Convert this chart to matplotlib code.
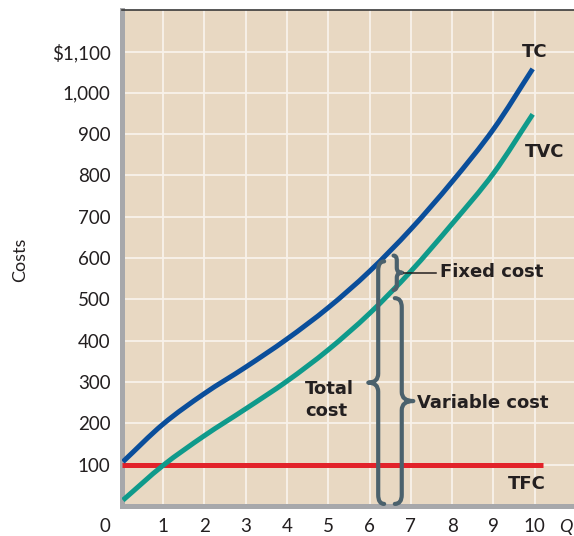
import numpy as np
import matplotlib.pyplot as plt
from matplotlib.path import Path
from matplotlib.patches import PathPatch

plt.rcParams['font.family'] = ['Lato', 'DejaVu Sans']

# values
q = [0.03, 1, 2, 3, 4, 5, 6, 7, 8, 9, 9.95]
tc = [107, 198, 272, 336, 404, 480, 568, 670, 785, 912, 1058]
tvc = [14, 98, 170, 235, 302, 378, 466, 568, 683, 805, 948]
tfc_q = [0, 10.2]
tfc = [100, 100]

x_ticks = list(range(1, 11))
y_ticks = [100, 200, 300, 400, 500, 600, 700, 800, 900, 1000, 1100]
y_labels = ['100', '200', '300', '400', '500', '600', '700', '800', '900', '1,000', '$1,100']

# brace annotations at Q ~ 6.2
total_brace = (6.21, 5, 592)
variable_brace = (6.78, 5, 503)
fixed_brace = (6.66, 523, 606)

bg = '#e8d8c2'
dark = '#231f20'
brace_col = '#4b616c'


def smooth_path(xs, ys):
    # catmull-rom through the points, drawn as bezier segments
    p = np.column_stack([xs, ys]).astype(float)
    ext = np.vstack([2 * p[0] - p[1], p, 2 * p[-1] - p[-2]])
    verts = [p[0]]
    codes = [Path.MOVETO]
    for i in range(1, len(ext) - 2):
        c1 = ext[i] + (ext[i + 1] - ext[i - 1]) / 6
        c2 = ext[i + 1] - (ext[i + 2] - ext[i]) / 6
        verts += [c1, c2, ext[i + 1]]
        codes += [Path.CURVE4] * 3
    return Path(verts, codes)


def brace(ax, x, y0, y1, w, r, side):
    ym = (y0 + y1) / 2
    e = -side * w * 0.6
    verts = [(x + e, y1), (x, y1), (x, y1 - r),
             (x, ym + r), (x, ym), (x + side * w, ym),
             (x, ym), (x, ym - r),
             (x, y0 + r), (x, y0), (x + e, y0)]
    codes = [Path.MOVETO, Path.CURVE3, Path.CURVE3, Path.LINETO,
             Path.CURVE3, Path.CURVE3, Path.CURVE3, Path.CURVE3,
             Path.LINETO, Path.CURVE3, Path.CURVE3]
    ax.add_patch(PathPatch(Path(verts, codes), fill=False, edgecolor=brace_col,
                           lw=3, capstyle='round', joinstyle='round', zorder=4))


fig = plt.figure(figsize=(5.74, 5.36), dpi=100)
ax = fig.add_axes([0.212, 0.056, 0.788, 0.925])
ax.set_facecolor(bg)
ax.set_xlim(0, 10.95)
ax.set_ylim(0, 1200)

ax.set_xticks(x_ticks)
ax.set_xticklabels([str(v) for v in x_ticks])
ax.set_yticks(y_ticks)
ax.set_yticklabels(y_labels)
ax.tick_params(length=0, labelsize=13.5, colors=dark)
ax.tick_params(axis='y', pad=8)
ax.tick_params(axis='x', pad=9)
ax.grid(color='#f8f2ea', lw=1.3)
ax.set_axisbelow(True)

for s in ['left', 'bottom']:
    ax.spines[s].set_color('#a7a8ab')
    ax.spines[s].set_linewidth(3.6)
ax.spines['top'].set_color('#3a3a3a')
ax.spines['top'].set_linewidth(1.2)
ax.spines['right'].set_visible(False)

ax.plot(tfc_q, tfc, color='#e2222a', lw=3.6, solid_capstyle='butt', zorder=3)
ax.add_patch(PathPatch(smooth_path(q, tvc), fill=False, edgecolor='#0f9a8b', lw=3.6, zorder=3))
ax.add_patch(PathPatch(smooth_path(q, tc), fill=False, edgecolor='#0a4e9b', lw=3.6, zorder=3))

brace(ax, *total_brace, w=0.24, r=22, side=-1)
brace(ax, *variable_brace, w=0.28, r=22, side=1)
brace(ax, *fixed_brace, w=0.13, r=12, side=1)
ax.plot([6.84, 7.6], [565, 565], color=dark, lw=1.1, zorder=4)

lab = dict(fontsize=13, fontweight='bold', color=dark, family=['DejaVu Sans'])
ax.text(10.0, 1099, 'TC', ha='center', va='center', **lab)
ax.text(10.25, 857, 'TVC', ha='center', va='center', **lab)
ax.text(9.8, 53, 'TFC', ha='center', va='center', **lab)
ax.text(7.71, 566, 'Fixed cost', ha='left', va='center', **lab)
ax.text(7.14, 249, 'Variable cost', ha='left', va='center', **lab)
ax.text(4.44, 257, 'Total\ncost', ha='left', va='center', linespacing=1.25, **lab)

ax.text(-0.4, -50, '0', ha='center', va='center', fontsize=13.5, color=dark, clip_on=False)
ax.text(10.58, -50, 'Q', ha='left', va='center', fontsize=13, style='italic', color=dark, clip_on=False)
fig.text(0.035, 0.515, 'Costs', rotation=90, ha='center', va='center', fontsize=13, color=dark)

fig.savefig('out.png', dpi=100)
